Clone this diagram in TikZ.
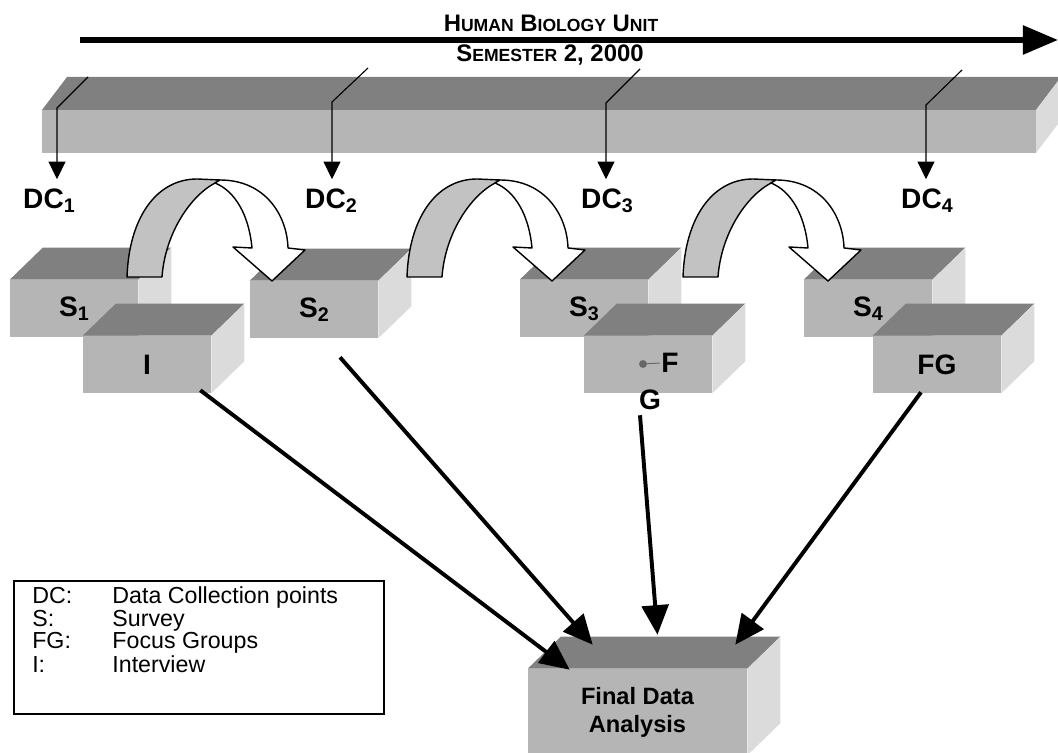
\documentclass[tikz,border=0pt]{standalone}
\usepackage{fontspec}
\setmainfont{Liberation Sans}
\usetikzlibrary{arrows.meta,calc,positioning}
\definecolor{facefront}{gray}{0.71}
\definecolor{facetop}{gray}{0.5}
\definecolor{faceside}{gray}{0.86}
\definecolor{bandgray}{gray}{0.76}

\newcommand{\smc}[1]{{\fontsize{12.5}{14}\selectfont #1}}
\newcommand{\sub}[1]{\raisebox{-0.25ex}{\fontsize{14}{16}\selectfont #1}}
\newcommand{\cubefaces}[1]{%
  \fill[facetop] (#1.north west) -- ++(33,-32) -- ($(#1.north east)+(33,-32)$) -- (#1.north east) -- cycle;
  \fill[faceside] (#1.north east) -- ++(33,-32) -- ($(#1.south east)+(33,-32)$) -- (#1.south east) -- cycle;}

\begin{document}
\begin{tikzpicture}[x=0.025cm, y=-0.025cm,
  box/.style={fill=facefront, minimum width=3.2cm, minimum height=1.425cm, inner sep=0pt,
    font=\fontsize{20}{22}\selectfont\bfseries},
  dclabel/.style={inner xsep=0pt, inner ysep=7pt, font=\fontsize{20}{22}\selectfont\bfseries},
  tick/.style={line width=0.8pt, -{Triangle[length=12.5pt, width=12pt]}},
  flow/.style={line width=2.8pt, -{Triangle[length=21pt, width=19pt]}},
  timeline/.style={line width=4pt, -{Triangle[length=25pt, width=20pt]}},
  legendbox/.style={draw, line width=1.4pt, minimum width=9.25cm, minimum height=3.325cm, inner sep=0pt},
  uturn/.pic={
    \filldraw[fill=bandgray, line width=1pt, line join=round] (0,0) .. controls (2,-60) and (30,-98) .. (70,-98) -- (93,-97) -- (88,-94) .. controls (62,-80) and (38,-42) .. (35,0) -- cycle;
    \filldraw[fill=white, line width=1pt, line join=round] (93,-97) .. controls (138,-97) and (160,-62) .. (161,-29) -- (178,-27) -- (145,4) -- (106,-30) -- (125,-29) .. controls (122,-62) and (108,-86) .. (88,-94) -- cycle;
  }]
\useasboundingbox (0,0) rectangle (1058,753);

% time line and title
\coordinate (tl0) at (80,40);
\coordinate (tl1) at (1058,40);
\draw[timeline] (tl0) -- (tl1);
\node[font=\fontsize{17}{19}\selectfont\bfseries] (title) at (551,23) {H\smc{UMAN} B\smc{IOLOGY} U\smc{NIT}};
\node[font=\fontsize{17}{19}\selectfont\bfseries] (sem) at (550,55) {S\smc{EMESTER} 2, 2000};

% the bar
\fill[facetop] (42,110) -- (67,77) -- (1061,77) -- (1036,110) -- cycle;
\fill[facefront] (42,110) rectangle (1036,153);
\fill[faceside] (1036,110) -- (1061,77) -- (1061,120) -- (1036,153) -- cycle;

% data collection points
\node[dclabel, anchor=base] (dc1) at (49,209) {DC\sub{1}};
\node[dclabel, anchor=base] (dc2) at (331,209) {DC\sub{2}};
\node[dclabel, anchor=base] (dc3) at (607,209) {DC\sub{3}};
\node[dclabel, anchor=base] (dc4) at (927,209) {DC\sub{4}};
\coordinate (k1) at (57,108);
\coordinate (k2) at (332,102);
\coordinate (k3) at (606,103);
\coordinate (k4) at (926,105);
\draw[tick] (k1) ++(31,-31) -- (k1) -- (k1 |- dc1.north);
\draw[tick] (k2) ++(36,-34) -- (k2) -- (k2 |- dc2.north);
\draw[tick] (k3) ++(34,-34) -- (k3) -- (k3 |- dc3.north);
\draw[tick] (k4) ++(36,-35) -- (k4) -- (k4 |- dc4.north);

% boxes
\foreach \n/\x/\y/\t in {s1/74/308.5/S\sub{1}, i/147/364.5/I, s2/314/309.5/S\sub{2},
    s3/584/308.5/S\sub{3}, fgbox/648/364.5/{}, s4/868/308.5/S\sub{4}, fg/937/364.5/FG}
{
  \node[box] (\n) at (\x,\y) {\t};
  \cubefaces{\n}
}
\node[font=\fontsize{20}{22}\selectfont\bfseries, inner sep=1pt] (f) at (670,363) {F};
\coordinate (fdot) at (643,364);
\fill[black!60] (fdot) circle[radius=2.8pt];
\draw[black!60, line width=0.7pt] (fdot) -- (f.west);
\node[font=\fontsize{20}{22}\selectfont\bfseries] (g) at (650,400) {G};

% curved arrows
\pic at (127,277) {uturn};
\pic at (407,277) {uturn};
\pic at (683,277) {uturn};

% final box
\node[box, minimum width=5.475cm, minimum height=2.15cm, align=center,
  font=\fontsize{16.8}{20}\selectfont\bfseries] (fin) at (637.5,712) {Final Data\\Analysis};
\cubefaces{fin}

\draw[flow] ($(i.south east)+(-11,-3)$) -- ($(fin.north west)+(42,1)$);
\draw[flow] ($(s2.south)+(26,19)$) -- ($(fin.north west)+(65,-24)$);
\draw[flow] ($(fgbox.south)+(-8,22)$) -- ($(fin.north)+(20,-34)$);
\draw[flow] ($(fg.south)+(-16,-1)$) -- ($(fin.north east)+(-12,-24)$);

% legend
\node[legendbox, anchor=north west] (legend) at (13,580) {};
\node[anchor=north west, inner sep=0pt, font=\fontsize{16.5}{16}\selectfont] (legtext) at ($(legend.north west)+(19,6)$)
  {\begin{tabular}{@{}p{57pt}@{}l@{}}
   DC: & Data Collection points\\
   S:  & Survey\\
   FG: & Focus Groups\\
   I:  & Interview
   \end{tabular}};
\end{tikzpicture}
\end{document}
